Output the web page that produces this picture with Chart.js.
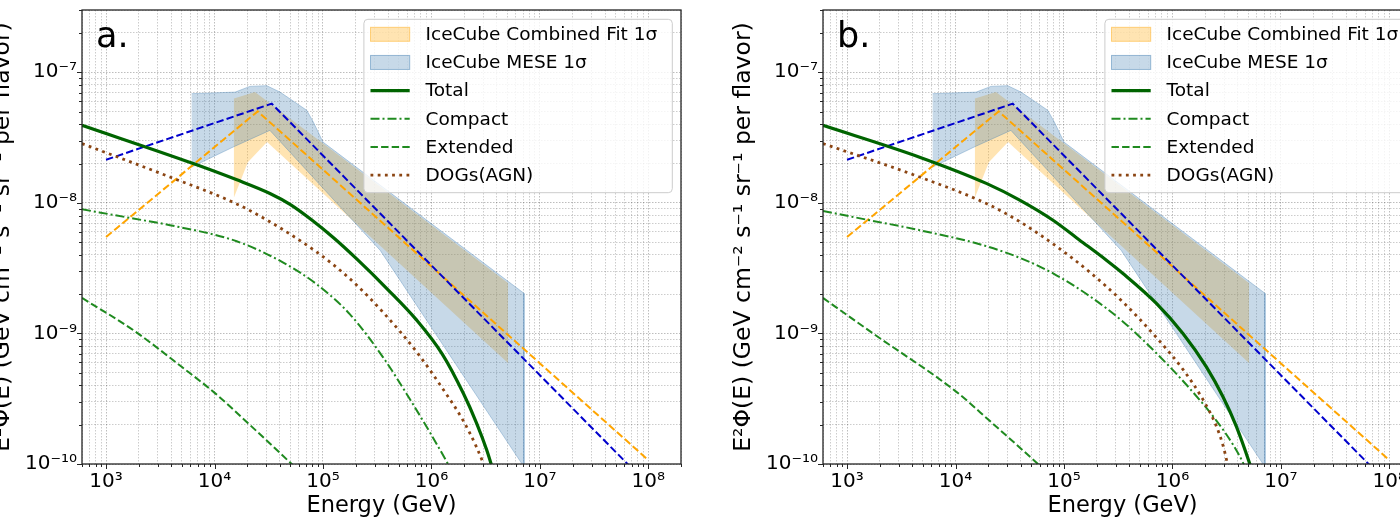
<!DOCTYPE html>
<html>
<head>
<meta charset="utf-8">
<script src="https://cdn.jsdelivr.net/npm/chart.js@4.4.1/dist/chart.umd.min.js"></script>
<style>
html,body{margin:0;padding:0;width:1400px;height:517px;overflow:hidden;background:#fff;}
canvas{position:absolute;top:0;width:781px;height:540px;}
#ca{left:-40px;}
#cb{left:701px;}
</style>
</head>
<body>
<canvas id="ca" width="781" height="540"></canvas>
<canvas id="cb" width="781" height="540"></canvas>
<script>
// ---------------- data ----------------
const xLimits = [600, 2e8];
const yLimits = [1e-10, 3e-7];
const panelLabels = ['a.', 'b.'];
const xTitle = 'Energy (GeV)';
const yTitle = 'E²Φ(E) (GeV cm⁻² s⁻¹ sr⁻¹ per flavor)';
const seriesNames = ['IceCube Combined Fit 1σ', 'IceCube MESE 1σ', 'Total', 'Compact', 'Extended', 'DOGs(AGN)'];

// IceCube best-fit broken power laws (same in both panels)
const combinedFitE = [1e3, 2.5e4, 1e8];
const combinedFitFlux = [5.48e-9, 5.02e-8, 1.07e-10];
const meseFitE = [1e3, 3.37e4, 1e8];
const meseFitFlux = [2.14e-8, 5.75e-8, 6.9e-11];

// IceCube 1-sigma bands (edges listed left to right)
const combinedBandUpperE = [1.51e4, 2.36e4, 5.08e6];
const combinedBandUpperFlux = [6.31e-8, 7.05e-8, 2.43e-9];
const combinedBandLowerE = [1.51e4, 2.03e4, 3.05e4, 5.08e6];
const combinedBandLowerFlux = [1.10e-8, 2.05e-8, 2.92e-8, 5.93e-10];

const meseBandUpperE = [6.15e3, 1.55e4, 2.12e4, 3.03e4, 4.02e4, 7.08e4, 8.15e4, 1.0e5, 7.13e6];
const meseBandUpperFlux = [6.86e-8, 7.05e-8, 7.8e-8, 7.9e-8, 7.05e-8, 5.12e-8, 4.16e-8, 2.92e-8, 2.03e-9];
const meseBandLowerE = [6.15e3, 1.49e4, 3.24e4, 3.36e5, 7.13e6];
const meseBandLowerFlux = [1.88e-8, 2.68e-8, 3.59e-8, 4.34e-9, 9.5e-11];

// Panel a model curves
const totalA_E = [600, 6368, 15849, 32434, 50119, 79433, 125893, 204644, 398107, 731139, 1.259e6, 1.968e6, 2.612e6, 3.228e6, 3.981e6];
const totalA_Flux = [3.926e-8, 2.0e-8, 1.507e-8, 1.18e-8, 9.70e-9, 7.36e-9, 5.38e-9, 3.72e-9, 2.16e-9, 1.265e-9, 6.95e-10, 3.48e-10, 2.05e-10, 1.285e-10, 7.3e-11];
const compactA_E = [600, 1782, 3882, 15996, 43053, 87498, 177419, 359749, 633870, 970510, 1.462e6, 1.778e6];
const compactA_Flux = [8.93e-9, 7.59e-9, 6.75e-9, 5.08e-9, 3.49e-9, 2.38e-9, 1.40e-9, 6.53e-10, 3.13e-10, 1.74e-10, 9.6e-11, 7.1e-11];
const extendedA_E = [600, 1782, 4977, 10093, 21232, 51404, 63096];
const extendedA_Flux = [1.87e-9, 1.06e-9, 5.55e-10, 3.49e-10, 1.99e-10, 1.0e-10, 8.5e-11];
const dogsA_E = [600, 3882, 15996, 32434, 65766, 116145, 199526, 359749, 731139, 1.285e6, 1.968e6, 2.612e6, 3.006e6, 3.548e6];
const dogsA_Flux = [2.844e-8, 1.578e-8, 9.82e-9, 7.16e-9, 4.95e-9, 3.52e-9, 2.39e-9, 1.445e-9, 7.21e-10, 3.72e-10, 2.14e-10, 1.34e-10, 1.01e-10, 6.8e-11];

// Panel b model curves
const totalB_E = [600, 4667, 19231, 39084, 79250, 139637, 246037, 349945, 711214, 1.25e6, 2.056e6, 2.924e6, 3.89e6, 5.152e6, 5.754e6];
const totalB_Flux = [3.926e-8, 2.24e-8, 1.41e-8, 1.05e-8, 7.36e-9, 5.18e-9, 3.64e-9, 2.88e-9, 1.70e-9, 1.0e-9, 5.55e-10, 3.27e-10, 1.93e-10, 1.01e-10, 7.6e-11];
const compactB_E = [600, 1614, 4667, 19231, 48306, 85114, 172584, 349945, 711214, 1.442e6, 2.541e6, 3.614e6, 4.477e6, 5.012e6];
const compactB_Flux = [8.67e-9, 7.36e-9, 6.18e-9, 4.66e-9, 3.53e-9, 2.79e-9, 1.93e-9, 1.23e-9, 7.06e-10, 3.79e-10, 2.15e-10, 1.41e-10, 1.02e-10, 8.1e-11];
const extendedB_E = [600, 1734, 10186, 20654, 57544, 70795];
const extendedB_Flux = [1.87e-9, 1.0e-9, 3.57e-10, 2.14e-10, 1.0e-10, 8.5e-11];
const dogsB_E = [600, 4667, 19231, 39084, 85114, 172584, 349945, 711214, 1.25e6, 1.914e6, 2.541e6, 2.924e6, 3.184e6, 3.388e6];
const dogsB_Flux = [2.844e-8, 1.578e-8, 9.89e-9, 7.18e-9, 4.65e-9, 2.95e-9, 1.74e-9, 9.31e-10, 5.30e-10, 3.11e-10, 1.95e-10, 1.39e-10, 1.04e-10, 8.1e-11];

// ---------------- helpers ----------------
const FONT = "'DejaVu Sans', 'Liberation Sans', sans-serif";
Chart.defaults.font.family = FONT;
Chart.defaults.color = '#000';

function pts(E, F) { return E.map((e, i) => ({x: e, y: F[i]})); }
function bandPts(uE, uF, lE, lF) {
  return pts(uE, uF).concat(pts(lE, lF).reverse());
}
function isPow10(v) { const l = Math.log10(v); return Math.abs(l - Math.round(l)) < 1e-6; }
const SUP = {'-': '⁻', '0': '⁰', '1': '¹', '2': '²', '3': '³', '4': '⁴', '5': '⁵', '6': '⁶', '7': '⁷', '8': '⁸', '9': '⁹'};
function powLabel(v) {
  if (!isPow10(v)) return '';
  const e = String(Math.round(Math.log10(v)));
  return '10' + e.split('').map(c => SUP[c]).join('');
}
function logTicks(min, max) {
  const out = [];
  for (let e = Math.floor(Math.log10(min)); e <= Math.ceil(Math.log10(max)); e++) {
    for (let m = 1; m < 10; m++) {
      const v = Number((m * Math.pow(10, e)).toPrecision(8));
      if (v >= min * 0.99999 && v <= max * 1.00001) out.push({value: v});
    }
  }
  return out;
}
const gridColor = ctx => (ctx.tick && isPow10(ctx.tick.value)) ? 'rgba(0,0,0,0.26)' : 'rgba(0,0,0,0.2)';

// frame + tick marks
const framePlugin = {
  id: 'frameTicks',
  afterDatasetsDraw(chart) {
    const {ctx, chartArea: a, scales} = chart;
    ctx.save();
    ctx.strokeStyle = '#262626';
    ctx.lineWidth = 1;
    ctx.setLineDash([]);
    ctx.beginPath();
    scales.x.ticks.forEach(t => {
      const p = Math.round(scales.x.getPixelForValue(t.value)) + 0.5;
      if (p < a.left - 0.5 || p > a.right + 0.5) return;
      const len = isPow10(t.value) ? 5 : 3;
      ctx.moveTo(p, a.bottom); ctx.lineTo(p, a.bottom + len);
    });
    scales.y.ticks.forEach(t => {
      const p = Math.round(scales.y.getPixelForValue(t.value)) + 0.5;
      if (p < a.top - 0.5 || p > a.bottom + 0.5) return;
      const len = isPow10(t.value) ? 5 : 3;
      ctx.moveTo(a.left, p); ctx.lineTo(a.left - len, p);
    });
    ctx.stroke();
    ctx.lineWidth = 1.3;
    ctx.strokeRect(a.left, a.top, a.right - a.left, a.bottom - a.top);
    ctx.restore();
  }
};

// legend inside the plot, upper right
const legendPlugin = {
  id: 'innerLegend',
  afterDraw(chart) {
    const {ctx, chartArea: a} = chart;
    const items = chart.data.datasets.filter(d => d.legendRank !== undefined)
      .sort((p, q) => p.legendRank - q.legendRank);
    const W = 308.4, H = 173.4;
    const x0 = a.right - 8.7 - W, y0 = a.top + 9.3;
    ctx.save();
    ctx.beginPath();
    ctx.roundRect(x0, y0, W, H, 4);
    ctx.fillStyle = 'rgba(255,255,255,0.8)';
    ctx.fill();
    ctx.strokeStyle = '#cccccc';
    ctx.lineWidth = 1;
    ctx.stroke();
    items.forEach((d, i) => {
      const y = y0 + 15 + i * 28.15;
      const hx0 = x0 + 6.6, hx1 = x0 + 45.8;
      if (d.fill === 'shape') {
        ctx.fillStyle = d.backgroundColor;
        ctx.fillRect(hx0, y - 7, hx1 - hx0, 14);
        ctx.strokeStyle = d.legendEdge;
        ctx.lineWidth = 1;
        ctx.setLineDash([]);
        ctx.strokeRect(hx0, y - 7, hx1 - hx0, 14);
      } else {
        ctx.strokeStyle = d.borderColor;
        ctx.lineWidth = d.borderWidth;
        ctx.setLineDash(d.borderDash || []);
        ctx.beginPath();
        ctx.moveTo(hx0, y); ctx.lineTo(hx1, y);
        ctx.stroke();
      }
      ctx.setLineDash([]);
      ctx.fillStyle = '#000';
      ctx.font = '18.5px ' + FONT;
      ctx.textBaseline = 'middle';
      ctx.textAlign = 'left';
      ctx.fillText(d.label, x0 + 61.7, y + 1);
    });
    ctx.restore();
  }
};

function panelLabelPlugin(text) {
  return {
    id: 'panelLabel',
    afterDraw(chart) {
      const {ctx, chartArea: a} = chart;
      ctx.save();
      ctx.font = '35px ' + FONT;
      ctx.fillStyle = '#000';
      ctx.textBaseline = 'alphabetic';
      ctx.textAlign = 'left';
      ctx.fillText(text, a.left + 14, a.top + 37);
      ctx.restore();
    }
  };
}

function axis(min, max, isX) {
  return {
    type: 'logarithmic',
    position: isX ? 'bottom' : 'left',
    min: min, max: max, bounds: 'data',
    afterBuildTicks: s => { s.ticks = logTicks(s.min, s.max); },
    afterFit: s => {
      if (isX) s.height = 76; else s.width = 122;
      s.paddingTop = 0; s.paddingBottom = 0; s.paddingLeft = 0; s.paddingRight = 0;
    },
    ticks: {
      autoSkip: false, maxRotation: 0, minRotation: 0,
      padding: isX ? 6 : 5,
      font: {size: 20, family: FONT}, color: '#000',
      callback: v => powLabel(v)
    },
    grid: {drawTicks: false, color: gridColor, lineWidth: 1},
    border: {display: false, dash: [1.5, 1.5]},
    title: {
      display: true,
      text: isX ? xTitle : yTitle,
      font: {size: isX ? 22.5 : 23.5, family: FONT}, color: '#000',
      padding: isX ? {top: 0, bottom: 20} : {top: 29, bottom: 0}
    }
  };
}

function makeChart(id, label, m) {
  const datasets = [
    {label: seriesNames[0], data: bandPts(combinedBandUpperE, combinedBandUpperFlux, combinedBandLowerE, combinedBandLowerFlux),
     fill: 'shape', backgroundColor: 'rgba(255,165,0,0.3)', borderColor: 'transparent', borderWidth: 0,
     pointRadius: 0, tension: 0, order: 10, legendRank: 0, legendEdge: 'rgba(255,165,0,0.45)'},
    {label: seriesNames[1], data: bandPts(meseBandUpperE, meseBandUpperFlux, meseBandLowerE, meseBandLowerFlux),
     fill: 'shape', backgroundColor: 'rgba(70,130,180,0.3)', borderColor: 'rgba(70,130,180,0.35)', borderWidth: 1,
     pointRadius: 0, tension: 0, order: 9, legendRank: 1, legendEdge: 'rgba(70,130,180,0.5)'},
    {label: 'IceCube Combined Fit', data: pts(combinedFitE, combinedFitFlux), fill: false,
     borderColor: '#FFA500', borderWidth: 2, borderDash: [7.4, 3.2], pointRadius: 0, order: 6},
    {label: 'IceCube MESE', data: pts(meseFitE, meseFitFlux), fill: false,
     borderColor: '#0000CD', borderWidth: 2, borderDash: [7.4, 3.2], pointRadius: 0, order: 5},
    {label: seriesNames[2], data: pts(m.totalE, m.totalF), fill: false,
     borderColor: '#006400', borderWidth: 3.2, pointRadius: 0, cubicInterpolationMode: 'monotone', order: 1, legendRank: 2},
    {label: seriesNames[3], data: pts(m.compactE, m.compactF), fill: false,
     borderColor: '#1f8a1f', borderWidth: 2, borderDash: [9, 3, 2, 3], pointRadius: 0, cubicInterpolationMode: 'monotone', order: 3, legendRank: 3},
    {label: seriesNames[4], data: pts(m.extendedE, m.extendedF), fill: false,
     borderColor: '#1f8a1f', borderWidth: 2, borderDash: [7.4, 3.2], pointRadius: 0, cubicInterpolationMode: 'monotone', order: 3, legendRank: 4},
    {label: seriesNames[5], data: pts(m.dogsE, m.dogsF), fill: false,
     borderColor: '#8B4513', borderWidth: 2.8, borderDash: [2.8, 4.4], pointRadius: 0, cubicInterpolationMode: 'monotone', order: 2, legendRank: 5}
  ];
  return new Chart(document.getElementById(id), {
    type: 'line',
    data: {datasets},
    options: {
      responsive: false,
      animation: false,
      devicePixelRatio: 1,
      events: [],
      layout: {padding: {left: 0, right: 60, top: 10, bottom: 0}, autoPadding: false},
      plugins: {legend: {display: false}, tooltip: {enabled: false}, title: {display: false}},
      scales: {x: axis(xLimits[0], xLimits[1], true), y: axis(yLimits[0], yLimits[1], false)}
    },
    plugins: [framePlugin, legendPlugin, panelLabelPlugin(label)]
  });
}

makeChart('ca', panelLabels[0], {
  totalE: totalA_E, totalF: totalA_Flux, compactE: compactA_E, compactF: compactA_Flux,
  extendedE: extendedA_E, extendedF: extendedA_Flux, dogsE: dogsA_E, dogsF: dogsA_Flux
});
makeChart('cb', panelLabels[1], {
  totalE: totalB_E, totalF: totalB_Flux, compactE: compactB_E, compactF: compactB_Flux,
  extendedE: extendedB_E, extendedF: extendedB_Flux, dogsE: dogsB_E, dogsF: dogsB_Flux
});
</script>
</body>
</html>
